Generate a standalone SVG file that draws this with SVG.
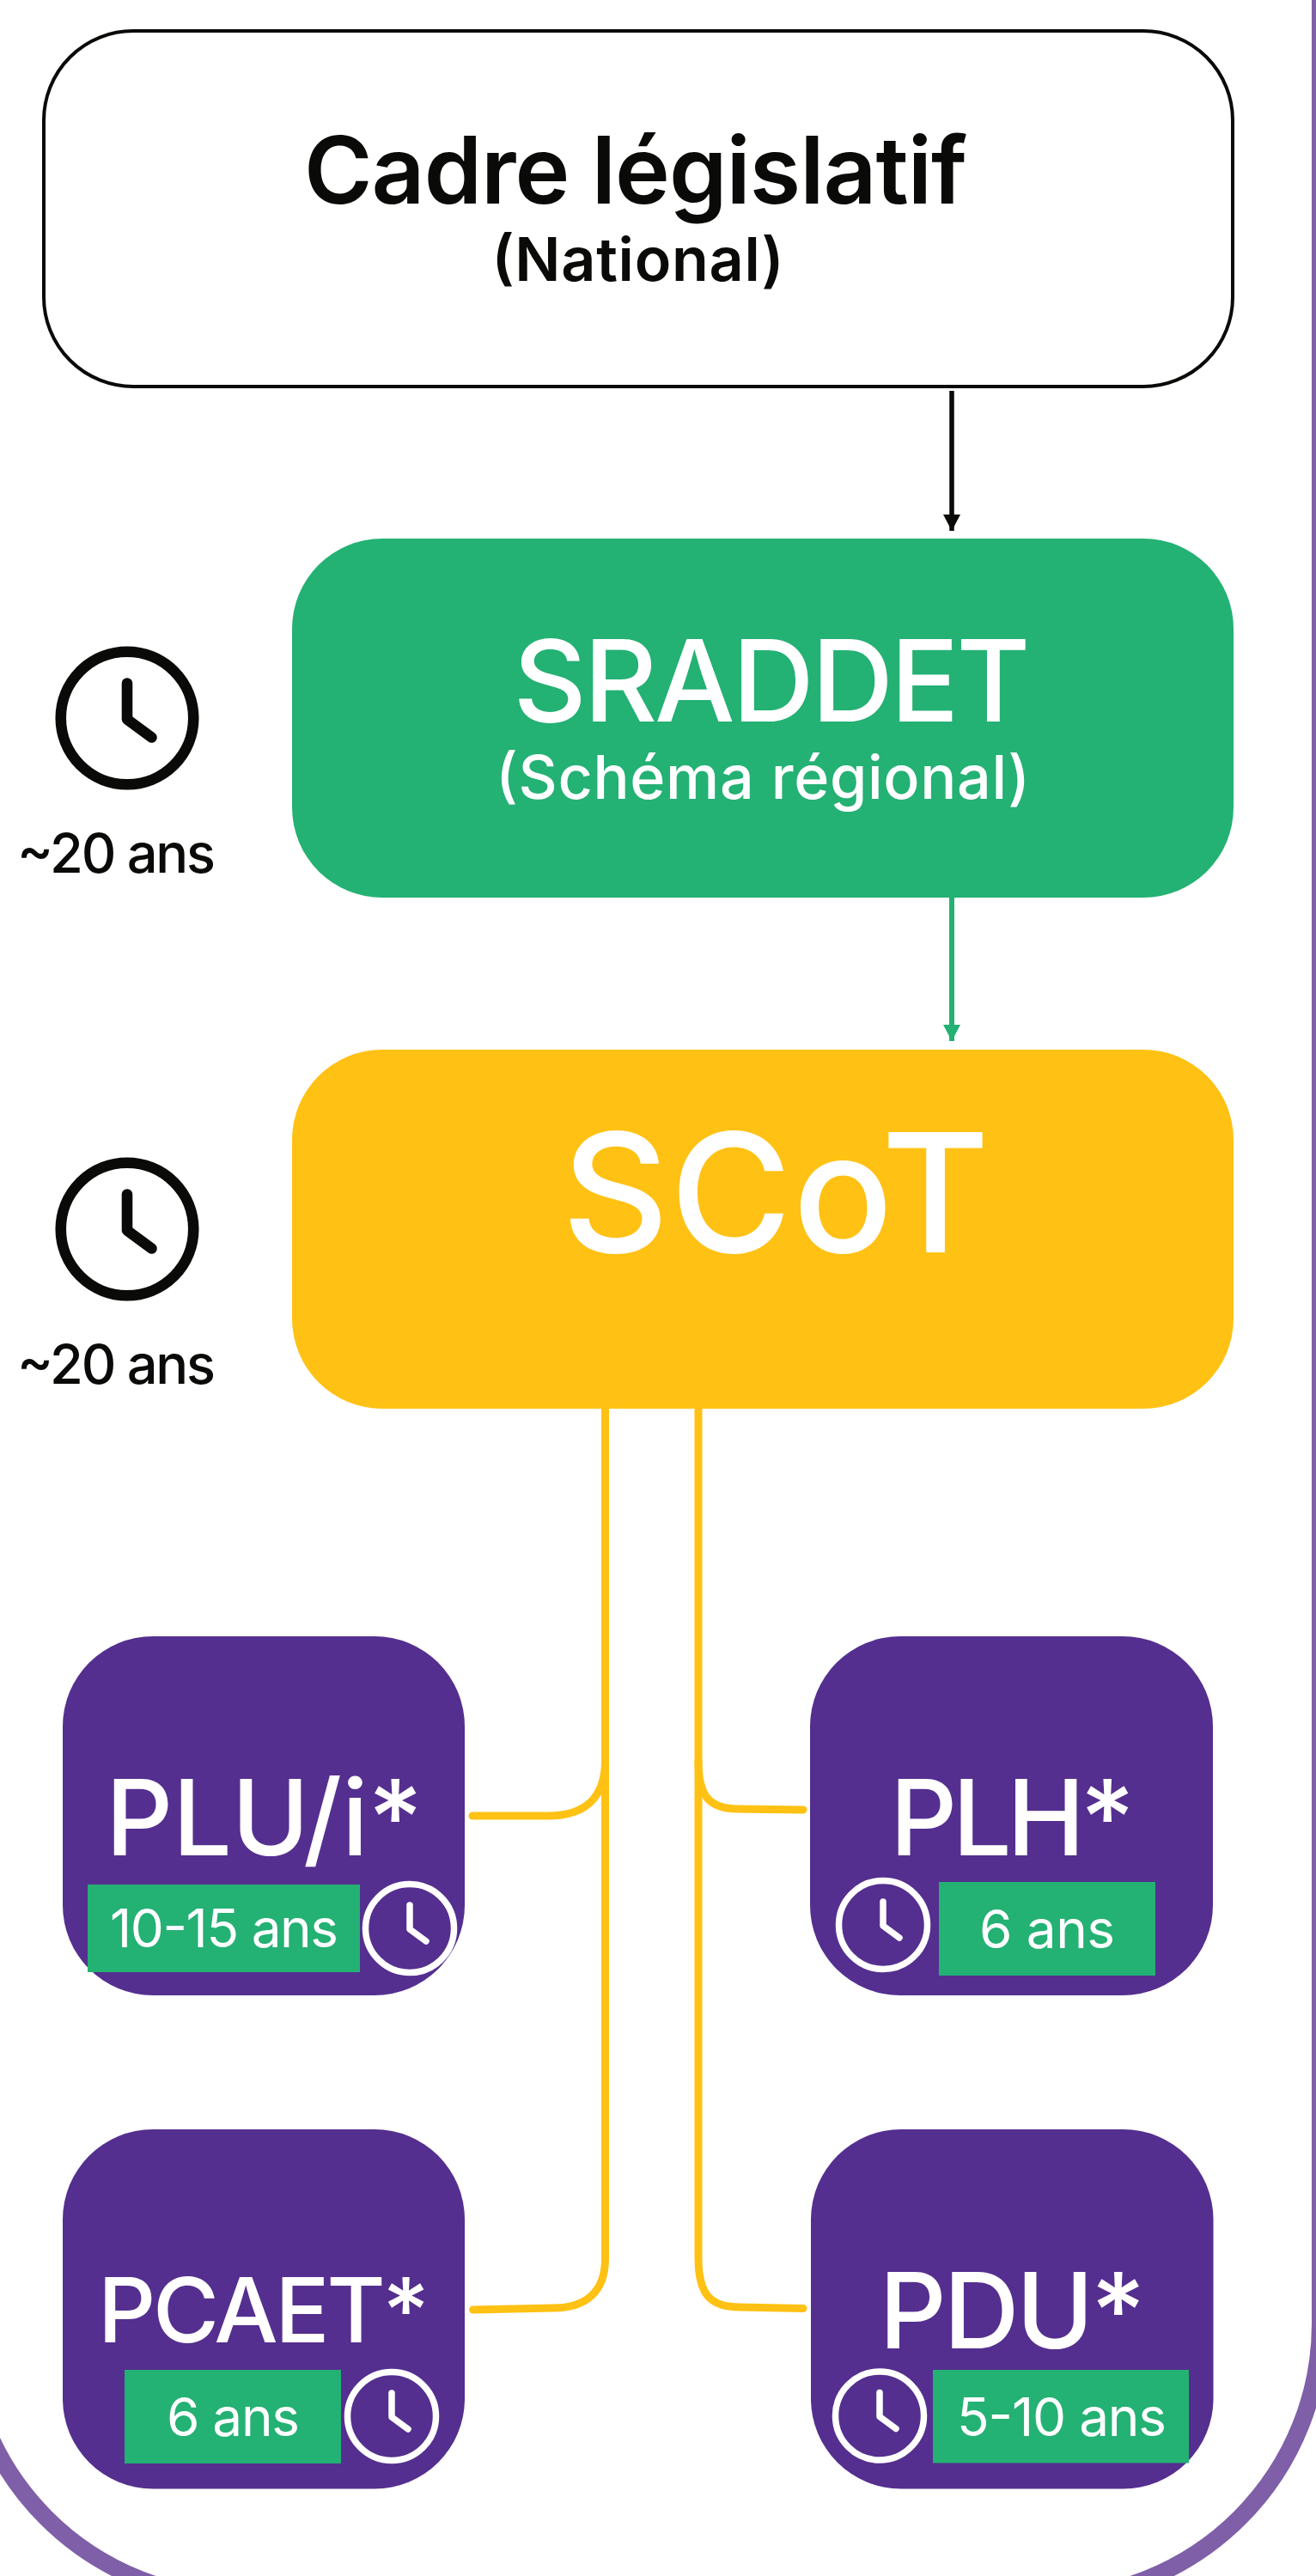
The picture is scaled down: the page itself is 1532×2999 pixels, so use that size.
<svg xmlns="http://www.w3.org/2000/svg" width="1532" height="2999" viewBox="0 0 1532 2999">
<style>
text{font-family:Inter,"Noto Sans","Liberation Sans",sans-serif;text-anchor:middle;fill:#fff;font-weight:500}
.dark{fill:#0a0a08}
.semi{font-weight:600}
.p{fill:#542f8f}
.g{fill:#24b174}
.y{fill:#ffc113}
.clk-w{stroke:#fff;stroke-width:7.5;fill:none}
.clk-k{stroke:#0a0a08;stroke-width:8.4;fill:none}
.link{fill:none;stroke:#ffc113;stroke-width:9;stroke-linecap:round}
.t1{font-size:122px}
.t2{font-size:62px;font-weight:400}
</style>
<defs>
<marker id="ak" markerUnits="userSpaceOnUse" markerWidth="20" markerHeight="20" refX="19" refY="10" orient="auto"><path d="M0,0L19,10L0,20z" fill="#0a0a08"/></marker>
<marker id="ag" markerUnits="userSpaceOnUse" markerWidth="20" markerHeight="20" refX="19" refY="10" orient="auto"><path d="M0,0L19,10L0,20z" fill="#24b174"/></marker>
<g id="clock"><circle r="51.5"/><path d="M0,-27V1L19,15" stroke-linecap="round" stroke-linejoin="round"/></g>
</defs>
<rect width="1532" height="2999" fill="#fff"/>
<rect id="frame" x="-40" y="-400" width="1577" height="3425" rx="320" fill="none" stroke="#7f5fa8" stroke-width="20"/>
<g id="connectors">
<path d="M1108,455V618" fill="none" stroke="#0a0a08" stroke-width="5.5" marker-end="url(#ak)"/>
<path d="M1108,1045V1212" fill="none" stroke="#24b174" stroke-width="6" marker-end="url(#ag)"/>
<path class="link" d="M704.5,1640V2050C704.5,2092 682,2114 638,2114H550"/>
<path class="link" d="M704.5,2050V2630C704.5,2668 682,2687 644,2687L550.5,2689"/>
<path class="link" d="M813,1640V2050C813,2092 826,2106 860,2106L935,2107"/>
<path class="link" d="M813,2050V2629C813,2670 826,2686 861,2686L935,2687.5"/>
</g>
<g id="cadre"><rect x="51" y="36" width="1384" height="414" rx="104" fill="#fff" stroke="#0a0a08" stroke-width="4"/>
<text class="dark semi" x="740" y="237" font-size="108" textLength="772">Cadre législatif</text>
<text class="dark semi" x="742.500" y="327" font-size="70" textLength="340">(National)</text></g>
<g id="sraddet"><rect class="g" x="340" y="627" width="1096" height="418" rx="105"/>
<text x="898.500" y="840" font-size="132" textLength="602">SRADDET</text>
<text x="888" y="930" font-size="70" textLength="622">(Schéma régional)</text></g>
<g id="scot"><rect class="y" x="340" y="1222" width="1096" height="418" rx="105"/>
<text x="903" y="1458" font-size="193" textLength="498">SCoT</text></g>
<g id="clock-sraddet"><use href="#clock" class="clk-k" transform="translate(148,836) scale(1.5)"/><text class="dark" x="135.500" y="1016" font-size="63" textLength="231">~20 ans</text></g>
<g id="clock-scot"><use href="#clock" class="clk-k" transform="translate(148,1431) scale(1.5)"/><text class="dark" x="135.500" y="1611" font-size="63" textLength="231">~20 ans</text></g>
<g id="plui"><rect class="p" x="73" y="1905" width="468" height="418" rx="105"/>
<text class="t1" x="307.500" y="2160" textLength="369">PLU/i*</text>
<rect class="g" x="102" y="2194" width="317" height="102"/>
<text class="t2" x="261" y="2267" textLength="266">10-15 ans</text>
<use href="#clock" class="clk-w" transform="translate(477,2245)"/></g>
<g id="plh"><rect class="p" x="943" y="1905" width="469" height="418" rx="105"/>
<text class="t1" x="1178.500" y="2160" textLength="285">PLH*</text>
<rect class="g" x="1093" y="2191" width="252" height="109"/>
<text class="t2" x="1219" y="2268" textLength="158">6 ans</text>
<use href="#clock" class="clk-w" transform="translate(1028,2241)"/></g>
<g id="pcaet"><rect class="p" x="73" y="2479" width="468" height="418.500" rx="105"/>
<text x="307" y="2727" font-size="105" textLength="386">PCAET*</text>
<rect class="g" x="145" y="2759" width="252" height="109"/>
<text class="t2" x="271.500" y="2836" textLength="155">6 ans</text>
<use href="#clock" class="clk-w" transform="translate(456,2813)"/></g>
<g id="pdu"><rect class="p" x="944" y="2479" width="468.500" height="418.500" rx="105"/>
<text class="t1" x="1178.500" y="2733.500" textLength="310">PDU*</text>
<rect class="g" x="1086" y="2759" width="298" height="108.500"/>
<text class="t2" x="1236" y="2835.500" textLength="244">5-10 ans</text>
<use href="#clock" class="clk-w" transform="translate(1024,2812.500)"/></g>
</svg>
